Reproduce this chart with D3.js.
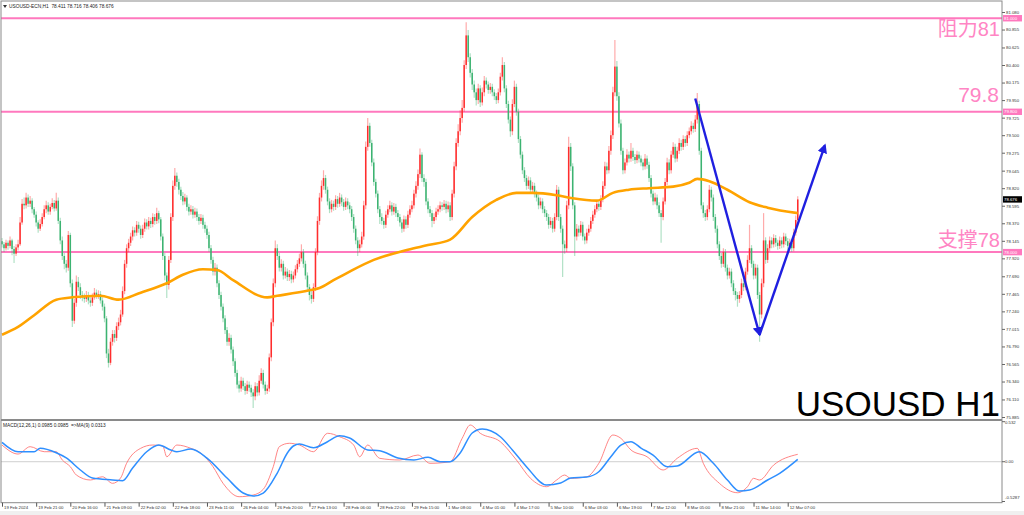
<!DOCTYPE html>
<html><head><meta charset="utf-8">
<script src="https://cdn.jsdelivr.net/npm/d3@7/dist/d3.min.js"></script>
<style>html,body{margin:0;padding:0;background:#fff;overflow:hidden}</style>
</head><body><svg id="c" width="1024" height="515"></svg>
<script>
// ---- DATA (hourly USOUSD bars) ----
const firstOpen = 78.14;
const closes = [
78.10,78.05,78.12,78.08,78.15,78.04,77.98,78.06,78.10,78.38,
78.62,78.60,78.70,78.62,78.66,78.55,78.48,78.38,78.30,78.36,
78.45,78.55,78.60,78.52,78.58,78.63,78.56,78.66,78.40,78.15,
77.95,77.85,77.80,78.22,77.60,77.12,77.35,77.62,77.55,77.45,
77.42,77.40,77.45,77.38,77.35,77.42,77.48,77.44,77.46,77.38,
77.30,77.15,76.70,76.58,76.85,76.95,76.90,77.05,77.10,77.20,
77.50,77.85,78.05,78.12,78.20,78.28,78.25,78.35,78.30,78.22,
78.30,78.38,78.33,78.40,78.36,78.45,78.40,78.50,78.42,78.20,
77.95,77.70,77.58,77.90,78.45,78.85,78.98,78.90,78.80,78.72,
78.65,78.70,78.58,78.52,78.55,78.48,78.52,78.45,78.40,78.44,
78.35,78.30,78.22,78.05,77.90,77.75,77.80,77.60,77.45,77.30,
77.15,77.00,76.85,76.90,76.75,76.60,76.45,76.30,76.25,76.35,
76.28,76.22,76.30,76.26,76.20,76.15,76.28,76.20,76.35,76.45,
76.30,76.22,76.25,76.65,77.10,77.60,78.05,77.95,77.80,77.85,
77.70,77.75,77.68,77.72,77.65,77.70,77.78,77.85,77.92,78.00,
77.85,77.70,77.55,77.45,77.40,77.55,78.00,78.40,78.70,78.85,
78.95,78.80,78.65,78.55,78.62,78.58,78.68,78.62,78.70,78.64,
78.58,78.65,78.60,78.55,78.45,78.30,78.15,78.05,78.10,78.20,
78.60,79.35,79.62,79.40,79.15,78.90,78.75,78.55,78.45,78.40,
78.35,78.48,78.55,78.60,78.52,78.58,78.50,78.45,78.38,78.30,
78.42,78.35,78.48,78.55,78.60,78.75,78.85,79.00,79.25,78.95,
78.90,78.65,78.55,78.50,78.40,78.45,78.52,78.55,78.60,78.58,
78.62,78.55,78.60,78.45,78.75,79.10,79.40,79.55,79.72,79.85,
80.40,80.78,80.50,80.30,80.15,80.05,79.95,80.10,79.92,80.05,
80.20,80.15,80.08,80.12,80.05,80.00,79.95,80.05,80.25,80.40,
80.10,79.90,79.70,79.55,79.90,80.12,79.80,79.45,79.25,79.05,
78.95,78.85,78.92,78.80,78.85,78.75,78.70,78.60,78.65,78.55,
78.50,78.45,78.35,78.40,78.30,78.45,78.80,78.45,78.30,78.10,
78.05,78.60,79.35,79.10,78.60,78.20,78.30,78.25,78.35,78.20,
78.15,78.25,78.30,78.40,78.48,78.55,78.62,78.58,78.68,78.85,
79.10,79.05,79.30,79.50,80.05,80.38,80.00,79.65,79.30,79.05,
79.15,79.25,79.20,79.30,79.22,79.18,79.25,79.20,79.15,79.10,
79.20,79.12,78.95,78.75,78.65,78.70,78.60,78.50,78.45,78.65,
78.90,79.15,79.05,79.25,79.35,79.20,79.30,79.40,79.35,79.45,
79.40,79.50,79.55,79.62,79.58,79.70,79.90,79.30,78.60,78.50,
78.45,78.55,78.80,78.70,78.45,78.30,78.10,77.95,77.85,78.00,
77.80,77.70,77.75,77.60,77.50,77.45,77.40,77.45,77.60,77.55,
77.75,77.90,78.05,77.85,77.70,77.80,77.45,77.20,77.60,78.15,
77.90,78.05,78.15,78.10,78.18,78.12,78.08,78.15,78.10,78.20,
78.14,78.08,78.12,78.05,78.25,78.411,78.676];
const highs = [
78.18,78.13,78.16,78.15,78.20,78.17,78.08,78.10,78.16,78.45,
78.68,78.70,78.76,78.74,78.72,78.69,78.58,78.52,78.41,78.42,
78.50,78.60,78.66,78.64,78.62,78.69,78.67,78.76,78.70,78.44,
78.20,77.99,77.90,78.27,78.25,77.65,77.40,77.70,77.68,77.60,
77.50,77.47,77.50,77.49,77.42,77.47,77.54,77.52,77.51,77.50,
77.42,77.34,77.18,76.76,76.90,77.00,77.00,77.10,77.16,77.26,
77.56,77.90,78.10,78.17,78.25,78.33,78.32,78.40,78.39,78.34,
78.35,78.43,78.42,78.45,78.44,78.50,78.49,78.57,78.53,78.45,
78.24,77.99,77.74,77.95,78.50,78.92,79.08,79.02,78.94,78.84,
78.77,78.75,78.73,78.62,78.60,78.59,78.57,78.56,78.49,78.49,
78.48,78.39,78.34,78.26,78.09,77.94,77.86,77.84,77.64,77.49,
77.34,77.19,77.04,76.96,76.94,76.79,76.64,76.49,76.35,76.40,
76.39,76.32,76.35,76.34,76.30,76.24,76.33,76.32,76.42,76.51,
76.49,76.34,76.30,76.70,77.15,77.66,78.15,78.10,77.99,77.91,
77.89,77.81,77.79,77.77,77.76,77.75,77.83,77.90,77.98,78.10,
78.04,77.89,77.74,77.59,77.50,77.60,78.05,78.46,78.76,78.92,
79.05,78.99,78.84,78.69,78.67,78.66,78.73,78.72,78.76,78.74,
78.68,78.70,78.69,78.64,78.59,78.49,78.34,78.19,78.16,78.26,
78.66,79.42,79.72,79.66,79.44,79.20,78.94,78.79,78.59,78.50,
78.44,78.53,78.60,78.66,78.64,78.63,78.62,78.54,78.49,78.42,
78.47,78.46,78.53,78.60,78.66,78.80,78.91,79.06,79.33,79.28,
79.00,78.94,78.69,78.59,78.54,78.50,78.57,78.60,78.65,78.64,
78.67,78.66,78.65,78.64,78.80,79.16,79.46,79.64,79.82,79.95,
80.46,80.95,80.85,80.55,80.35,80.20,80.10,80.16,80.14,80.11,
80.26,80.24,80.19,80.17,80.16,80.09,80.04,80.10,80.30,80.50,
80.44,80.14,79.94,79.74,79.96,80.20,80.16,79.84,79.49,79.29,
79.09,78.99,78.97,78.96,78.90,78.89,78.79,78.74,78.70,78.69,
78.59,78.54,78.49,78.45,78.44,78.50,78.86,78.84,78.49,78.34,
78.15,78.66,79.48,79.40,79.14,78.64,78.36,78.34,78.40,78.39,
78.24,78.30,78.35,78.45,78.53,78.60,78.67,78.66,78.73,78.91,
79.16,79.15,79.36,79.56,80.12,80.72,80.45,80.05,79.70,79.34,
79.20,79.32,79.29,79.40,79.34,79.26,79.30,79.29,79.24,79.19,
79.26,79.24,79.16,78.99,78.79,78.76,78.74,78.64,78.54,78.70,
78.95,79.21,79.19,79.30,79.41,79.39,79.35,79.46,79.44,79.50,
79.49,79.55,79.60,79.68,79.66,79.76,80.04,79.94,79.34,78.64,
78.54,78.60,78.86,78.84,78.74,78.49,78.34,78.14,77.99,78.05,
78.04,77.84,77.80,77.79,77.64,77.54,77.49,77.50,77.66,77.64,
77.80,77.96,78.35,78.09,77.89,77.85,77.84,77.49,77.66,78.50,
78.19,78.10,78.20,78.19,78.23,78.22,78.16,78.20,78.19,78.25,
78.24,78.18,78.17,78.16,78.30,78.47,78.716];
const lows = [
78.06,78.00,78.02,78.03,78.05,77.96,77.86,77.95,78.02,78.08,
78.35,78.55,78.56,78.58,78.58,78.50,78.44,78.33,78.25,78.27,
78.33,78.42,78.50,78.48,78.48,78.55,78.52,78.53,78.36,78.10,
77.90,77.78,77.74,77.76,77.55,77.04,77.08,77.30,77.50,77.40,
77.37,77.35,77.36,77.33,77.30,77.31,77.39,77.40,77.40,77.34,
77.25,77.10,76.64,76.52,76.55,76.80,76.84,76.86,77.00,77.06,
77.17,77.46,77.80,78.00,78.08,78.15,78.20,78.21,78.25,78.17,
78.18,78.26,78.29,78.29,78.31,78.32,78.35,78.36,78.37,78.15,
77.90,77.64,77.41,77.52,77.86,78.40,78.80,78.84,78.74,78.67,
78.60,78.61,78.53,78.47,78.48,78.43,78.44,78.40,78.35,78.36,
78.30,78.25,78.17,78.00,77.85,77.70,77.70,77.55,77.40,77.25,
77.10,76.95,76.80,76.80,76.70,76.54,76.40,76.25,76.20,76.21,
76.23,76.17,76.18,76.21,76.14,76.00,76.10,76.15,76.16,76.31,
76.25,76.17,76.18,76.21,76.60,77.05,77.55,77.90,77.75,77.75,
77.65,77.66,77.63,77.63,77.60,77.61,77.66,77.74,77.81,77.88,
77.80,77.65,77.50,77.38,77.34,77.36,77.50,77.96,78.35,78.65,
78.80,78.75,78.60,78.50,78.51,78.53,78.54,78.57,78.58,78.59,
78.53,78.54,78.55,78.50,78.40,78.25,78.10,77.95,78.00,78.06,
78.16,78.55,79.30,79.35,79.10,78.85,78.70,78.50,78.36,78.35,
78.30,78.31,78.44,78.51,78.47,78.48,78.45,78.40,78.33,78.25,
78.26,78.30,78.31,78.44,78.51,78.56,78.70,78.80,78.95,78.90,
78.84,78.60,78.50,78.45,78.32,78.36,78.41,78.48,78.51,78.53,
78.54,78.50,78.51,78.40,78.41,78.70,79.05,79.35,79.50,79.66,
79.80,80.35,80.44,80.24,80.08,79.98,79.88,79.90,79.86,79.88,
80.00,80.10,80.03,80.03,80.00,79.95,79.90,79.91,80.01,80.20,
80.05,79.85,79.65,79.48,79.50,79.86,79.75,79.40,79.20,79.00,
78.90,78.80,78.81,78.75,78.76,78.70,78.65,78.55,78.56,78.50,
78.45,78.40,78.30,78.31,78.25,78.26,78.41,78.40,78.25,77.68,
77.98,78.00,78.55,79.04,78.55,77.95,78.15,78.20,78.21,78.15,
78.10,78.11,78.21,78.26,78.36,78.44,78.51,78.53,78.54,78.64,
78.81,79.00,79.01,79.25,79.45,80.00,79.94,79.60,79.25,79.00,
79.01,79.11,79.15,79.16,79.17,79.13,79.14,79.15,79.10,79.05,
79.06,79.07,78.90,78.70,78.60,78.61,78.55,78.45,78.12,78.41,
78.61,78.86,79.00,79.01,79.21,79.15,79.16,79.26,79.30,79.31,
79.35,79.36,79.46,79.51,79.53,79.54,79.65,79.25,78.55,78.44,
78.40,78.41,78.51,78.65,78.40,78.25,78.05,77.90,77.80,77.81,
77.75,77.65,77.66,77.55,77.45,77.38,77.30,77.35,77.41,77.50,
77.51,77.71,77.86,77.80,77.65,77.66,77.40,76.85,77.15,77.55,
77.85,77.86,78.01,78.05,78.06,78.07,78.03,78.04,78.05,78.06,
78.09,78.03,78.04,78.00,78.01,78.21,78.406];

// moving average (orange), sampled along the bars
const maIdx = [0,8,16,27,35,49,58,69,82,90,100,107,115,132,137,153,158,165,173,185,202,212,223,234,246,256,264,276,284,296,304,312,322,334,342,346,352,361,372,381,396];
const maVal = [76.94,77.04,77.19,77.39,77.42,77.44,77.39,77.48,77.60,77.71,77.78,77.77,77.64,77.42,77.44,77.51,77.54,77.64,77.75,77.90,78.03,78.09,78.16,78.45,78.67,78.76,78.76,78.73,78.69,78.66,78.76,78.80,78.82,78.84,78.89,78.94,78.91,78.80,78.64,78.57,78.50];

// MACD main (red) and signal MA(9) (blue)
const macdIdx = [0,8,14,21,27,30,34,37,44,50,55,59,62,69,75,80,82,87,94,99,105,110,118,125,130,135,138,143,148,155,162,168,175,178,182,188,198,207,213,223,229,233,238,248,256,263,271,276,280,283,291,297,304,308,313,321,329,336,346,349,357,366,371,374,377,384,396];
const macdVal = [0.222,0.102,0.2,0.133,0.133,0.023,-0.066,-0.177,-0.243,-0.2,-0.287,-0.217,-0.021,0.178,0.222,0.209,0.066,0.222,0.178,0.112,-0.066,-0.287,-0.465,-0.443,-0.367,-0.066,0.2,0.245,0.222,0.133,0.378,0.332,0.222,0.066,0.222,0.045,0.023,0.089,-0.021,0,0.311,0.488,0.378,0.266,0.023,-0.221,-0.332,-0.243,-0.177,-0.221,-0.2,-0.021,0.355,0.311,0.156,0.066,-0.11,0.045,0.178,-0.021,-0.287,-0.412,-0.332,-0.221,-0.243,-0.044,0.0985];
const sigIdx = [0,8,16,19,27,32,39,45,55,60,65,72,78,84,87,94,102,112,120,125,130,137,142,145,148,155,162,168,173,182,188,197,205,212,218,223,228,234,239,248,254,261,271,278,283,291,297,303,308,313,318,324,331,336,347,354,361,367,372,381,387,396];
const sigVal = [0.258,0.133,0.133,0.18,0.12,0.05,-0.11,-0.217,-0.243,-0.253,-0.084,0.133,0.222,0.156,0.133,0.169,0.049,-0.217,-0.416,-0.456,-0.416,-0.15,0.116,0.209,0.235,0.186,0.266,0.346,0.315,0.156,0.146,0.049,0.023,0.059,0,0,0.116,0.382,0.435,0.332,0.156,-0.066,-0.31,-0.283,-0.217,-0.203,-0.133,0.066,0.222,0.266,0.182,0.089,-0.066,-0.057,0.133,-0.021,-0.243,-0.39,-0.376,-0.243,-0.154,0.0313];

// axis labels
const timeTickIdx = [0,17,34,51,68,85,102,119,136,153,170,187,204,221,238,255,272,289,306,323,340,357,374,391];
const timeTickLabels = ["19 Feb 2024","19 Feb 21:00","20 Feb 16:00","21 Feb 09:00","22 Feb 02:00","22 Feb 18:00","23 Feb 11:00","26 Feb 04:00","26 Feb 20:00","27 Feb 13:00","28 Feb 06:00","28 Feb 22:00","29 Feb 15:00","1 Mar 08:00","4 Mar 01:00","4 Mar 17:00","5 Mar 10:00","6 Mar 03:00","6 Mar 19:00","7 Mar 12:00","8 Mar 05:00","8 Mar 21:00","11 Mar 14:00","12 Mar 07:00"];
const priceTicks = [81.080,80.855,80.625,80.400,80.175,79.950,79.725,79.500,79.275,79.045,78.820,78.595,78.370,78.145,77.920,77.690,77.465,77.240,77.015,76.790,76.565,76.340,76.110,75.885];
const macdTicks = [0.532, 0, -0.5287];
const macdTickLabels = ["0.532","0.00","-0.5287"];

// horizontal levels and annotations
const levels = [81.0, 79.8, 78.0];
const levelTags = ["81.000","79.800","78.000"];
const levelTexts = ["阻力81","79.8","支撑78"];
const lastPrice = 78.676;
const arrowIdx = [345, 377, 409.5];
const arrowPrice = [79.97, 76.94, 79.37];
const headerText = "USOUSD-ECN,H1  78.411 78.716 78.406 78.676";
const macdText = "MACD(12,26,1) 0.0985 0.0985  =>MA(9) 0.0313";
const titleText = "USOUSD H1";

// ---- DRAW ----
const svg = d3.select('#c');
const AX = 1002;
const x = d3.scaleLinear().domain([0, 391]).range([2, 787.7]);
const y = d3.scaleLinear().domain([75.885, 81.080]).range([417, 12]);
const ym = d3.scaleLinear().domain([-0.5287, 0.532]).range([501.5, 421.7]);

svg.append('rect').attr('width',1024).attr('height',515).attr('fill','#fff');
svg.append('rect').attr('x',0).attr('y',511).attr('width',1024).attr('height',4).attr('fill','#f0f0f0');

const defs = svg.append('defs');
defs.append('clipPath').attr('id','mainClip').append('rect').attr('x',1).attr('y',1).attr('width',AX-1).attr('height',418);
defs.append('clipPath').attr('id','macdClip').append('rect').attr('x',1).attr('y',421).attr('width',AX-1).attr('height',81);
defs.append('marker').attr('id','arr').attr('viewBox','0 0 10 10').attr('refX',8).attr('refY',5)
  .attr('markerWidth',4).attr('markerHeight',4).attr('orient','auto-start-reverse')
  .append('path').attr('d','M0,0 L10,5 L0,10 z').attr('fill','#1f1fe0');

const main = svg.append('g').attr('clip-path','url(#mainClip)');

// level lines
main.selectAll('line.lvl').data(levels).join('line').attr('class','lvl')
  .attr('x1',1).attr('x2',AX).attr('y1',d=>y(d)).attr('y2',d=>y(d))
  .attr('stroke','#ff78be').attr('stroke-width',2);

// candles
const bars = closes.map((c,i)=>({i, o: i ? closes[i-1] : firstOpen, c, h: highs[i], l: lows[i]}));
const col = d => d.c >= d.o ? '#ff2d2d' : '#3cb371';
main.selectAll('line.wick').data(bars).join('line').attr('class','wick')
  .attr('x1',d=>x(d.i)).attr('x2',d=>x(d.i)).attr('y1',d=>y(d.h)).attr('y2',d=>y(d.l))
  .attr('stroke',col).attr('stroke-opacity',0.4).attr('stroke-width',1.2);
main.selectAll('rect.body').data(bars).join('rect').attr('class','body')
  .attr('x',d=>x(d.i)-0.75).attr('width',1.5)
  .attr('y',d=>y(Math.max(d.o,d.c)))
  .attr('height',d=>Math.max(0.8, Math.abs(y(d.o)-y(d.c))))
  .attr('fill',col);

// moving average
const maPts = maIdx.map((d,k)=>[d, maVal[k]]);
main.append('path').datum(maPts)
  .attr('d', d3.line().x(d=>x(d[0])).y(d=>y(d[1])).curve(d3.curveMonotoneX))
  .attr('fill','none').attr('stroke','#ffa300').attr('stroke-width',2.6);

// arrows
const ap = arrowIdx.map((d,k)=>[x(d), y(arrowPrice[k])]);
[[ap[0],ap[1]],[ap[1],ap[2]]].forEach(seg=>{
  svg.append('line').attr('x1',seg[0][0]).attr('y1',seg[0][1]).attr('x2',seg[1][0]).attr('y2',seg[1][1])
    .attr('stroke','#1f1fe0').attr('stroke-width',2.4).attr('marker-end','url(#arr)');
});

// level texts
const lvlFont = "'Liberation Sans','Noto Sans CJK SC',sans-serif";
svg.append('text').attr('x',1000).attr('y',y(levels[0])+18).attr('text-anchor','end')
  .attr('font-family',lvlFont).attr('font-size',20).attr('fill','#ff85c4').text(levelTexts[0]);
svg.append('text').attr('x',999).attr('y',y(levels[1])-10).attr('text-anchor','end')
  .attr('font-family',lvlFont).attr('font-size',21).attr('fill','#ff85c4').text(levelTexts[1]);
svg.append('text').attr('x',1000).attr('y',y(levels[2])-5).attr('text-anchor','end')
  .attr('font-family',lvlFont).attr('font-size',20).attr('fill','#ff85c4').text(levelTexts[2]);

// big title
svg.append('text').attr('x',1000).attr('y',416).attr('text-anchor','end')
  .attr('font-family',"'Liberation Sans',Arial,sans-serif").attr('font-size',35).attr('fill','#000').text(titleText);

// header
svg.append('path').attr('d','M3,5 L7,5 L5,8 z').attr('fill','#333');
svg.append('text').attr('x',9).attr('y',8).attr('font-family',"'Liberation Sans',sans-serif")
  .attr('font-size',4.8).attr('fill','#222').attr('xml:space','preserve').text(headerText);

// MACD panel
const mg = svg.append('g').attr('clip-path','url(#macdClip)');
mg.append('line').attr('x1',1).attr('x2',AX).attr('y1',ym(0)).attr('y2',ym(0)).attr('stroke','#cfcfcf').attr('stroke-width',1);
mg.append('path').datum(macdIdx.map((d,k)=>[d, macdVal[k]]))
  .attr('d', d3.line().x(d=>x(d[0])).y(d=>ym(d[1])).curve(d3.curveMonotoneX))
  .attr('fill','none').attr('stroke','#ff7070').attr('stroke-opacity',0.85).attr('stroke-width',1);
mg.append('path').datum(sigIdx.map((d,k)=>[d, sigVal[k]]))
  .attr('d', d3.line().x(d=>x(d[0])).y(d=>ym(d[1])).curve(d3.curveMonotoneX))
  .attr('fill','none').attr('stroke','#2f8fff').attr('stroke-width',1.5);
svg.append('text').attr('x',3).attr('y',427).attr('font-family',"'Liberation Sans',sans-serif")
  .attr('font-size',4.8).attr('fill','#222').attr('xml:space','preserve').text(macdText);

// frames
svg.append('rect').attr('x',1).attr('y',1).attr('width',AX-1).attr('height',501.7).attr('fill','none').attr('stroke','#8a8a8a').attr('stroke-width',1);
svg.append('line').attr('x1',1).attr('x2',AX).attr('y1',420).attr('y2',420).attr('stroke','#8a8a8a').attr('stroke-width',2);

// right price axis
const fontAx = "'Liberation Sans',Arial,sans-serif";
const ra = svg.append('g').attr('transform',`translate(${AX},0)`)
  .call(d3.axisRight(y).tickValues(priceTicks).tickFormat(d3.format('.3f')).tickSize(3).tickPadding(1));
ra.select('.domain').remove();
ra.selectAll('line').attr('stroke','#666');
ra.selectAll('text').attr('font-family',fontAx).attr('font-size',4.3).attr('fill','#333');

// level tags on axis
levels.forEach((v,k)=>{
  svg.append('rect').attr('x',AX+1).attr('y',y(v)-3.2).attr('width',19).attr('height',6.4).attr('fill','#ff78be');
  svg.append('text').attr('x',AX+2).attr('y',y(v)+1.6).attr('font-family',fontAx).attr('font-size',4.3).attr('fill','#fff').text(levelTags[k]);
});
svg.append('rect').attr('x',AX+1).attr('y',y(lastPrice)-3.2).attr('width',19).attr('height',6.4).attr('fill','#000');
svg.append('text').attr('x',AX+2).attr('y',y(lastPrice)+1.6).attr('font-family',fontAx).attr('font-size',4.3).attr('fill','#fff').text(d3.format('.3f')(lastPrice));

// MACD axis
const mOff = [2.5, 1.5, -3];
macdTicks.forEach((v,k)=>{
  svg.append('line').attr('x1',AX).attr('x2',AX+3).attr('y1',ym(v)).attr('y2',ym(v)).attr('stroke','#666');
  svg.append('text').attr('x',AX+3).attr('y',ym(v)+mOff[k]).attr('font-family',fontAx).attr('font-size',4.3).attr('fill','#333').text(macdTickLabels[k]);
});

// time axis
const ba = svg.append('g').attr('transform','translate(0,502.7)')
  .call(d3.axisBottom(x).tickValues(timeTickIdx).tickFormat((d,k)=>timeTickLabels[k]).tickSize(4).tickPadding(1));
ba.select('.domain').remove();
ba.selectAll('line').attr('stroke','#555');
ba.selectAll('text').attr('font-family',fontAx).attr('font-size',4.3).attr('fill','#333')
  .attr('text-anchor','start').attr('dx',1.5).attr('dy','0.2em');
</script></body></html>
